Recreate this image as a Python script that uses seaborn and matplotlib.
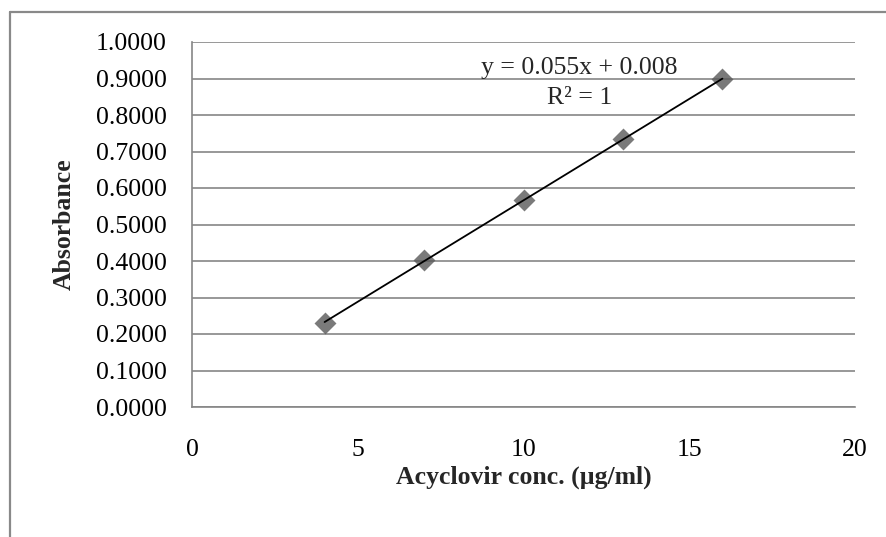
import matplotlib
matplotlib.use("Agg")
import matplotlib.pyplot as plt
from matplotlib.lines import Line2D
import seaborn as sns
import pandas as pd

# Calibration standards for acyclovir
concentration = [4, 7, 10, 13, 16]           # µg/ml
absorbance = [0.230, 0.402, 0.568, 0.733, 0.898]

x_ticks = [0, 5, 10, 15, 20]
y_ticks = [0.0, 0.1, 0.2, 0.3, 0.4, 0.5, 0.6, 0.7, 0.8, 0.9, 1.0]
equation_text = "y = 0.055x + 0.008\nR² = 1"

df = pd.DataFrame({"conc": concentration, "abs": absorbance})

sns.set_style("white")
plt.rcParams["font.family"] = ["Liberation Serif", "DejaVu Serif"]

grid_gray = "#868686"

fig = plt.figure(figsize=(8.86, 5.37), dpi=100)
ax = fig.add_axes([192 / 886, 1 - 407 / 537, (855 - 192) / 886, (407 - 42) / 537])

sns.regplot(
    data=df, x="conc", y="abs", ax=ax, ci=None, marker="D", truncate=True,
    scatter_kws=dict(s=125, color="#595959", linewidths=0, zorder=2),
    line_kws=dict(color="black", lw=1.3, zorder=3),
)

ax.set_xlim(0, 20)
ax.set_ylim(0, 1.0)
ax.set_xticks(x_ticks)
ax.set_yticks(y_ticks)
ax.set_xticklabels([str(t) for t in x_ticks])
ax.set_yticklabels([f"{t:.4f}" for t in y_ticks])
ax.tick_params(axis="both", length=0, labelsize=18.5, colors="black")
ax.tick_params(axis="y", pad=18)
ax.tick_params(axis="x", pad=23)

ax.yaxis.grid(True, color=grid_gray, lw=1.2)
ax.xaxis.grid(False)
ax.set_axisbelow(True)
for side in ["top", "right"]:
    ax.spines[side].set_visible(False)
for side in ["left", "bottom"]:
    ax.spines[side].set_color(grid_gray)
    ax.spines[side].set_linewidth(1.2)

ax.set_xlabel("Acyclovir conc. (µg/ml)", fontsize=18.5, fontweight="bold", labelpad=3)
ax.set_ylabel("Absorbance", fontsize=18.5, fontweight="bold", labelpad=15)

ax.text(11.68, 0.888, equation_text, ha="center", va="center", multialignment="center",
        fontsize=18.5, linespacing=1.45)

# Chart area border (left and top edges visible inside the canvas)
fig.add_artist(Line2D([10 / 886, 10 / 886], [-0.1, 1 - 12 / 537], transform=fig.transFigure,
                      color="#898989", lw=1.6))
fig.add_artist(Line2D([10 / 886, 1.1], [1 - 12 / 537, 1 - 12 / 537], transform=fig.transFigure,
                      color="#898989", lw=1.6))

fig.savefig("out.png", dpi=100, facecolor="white")
